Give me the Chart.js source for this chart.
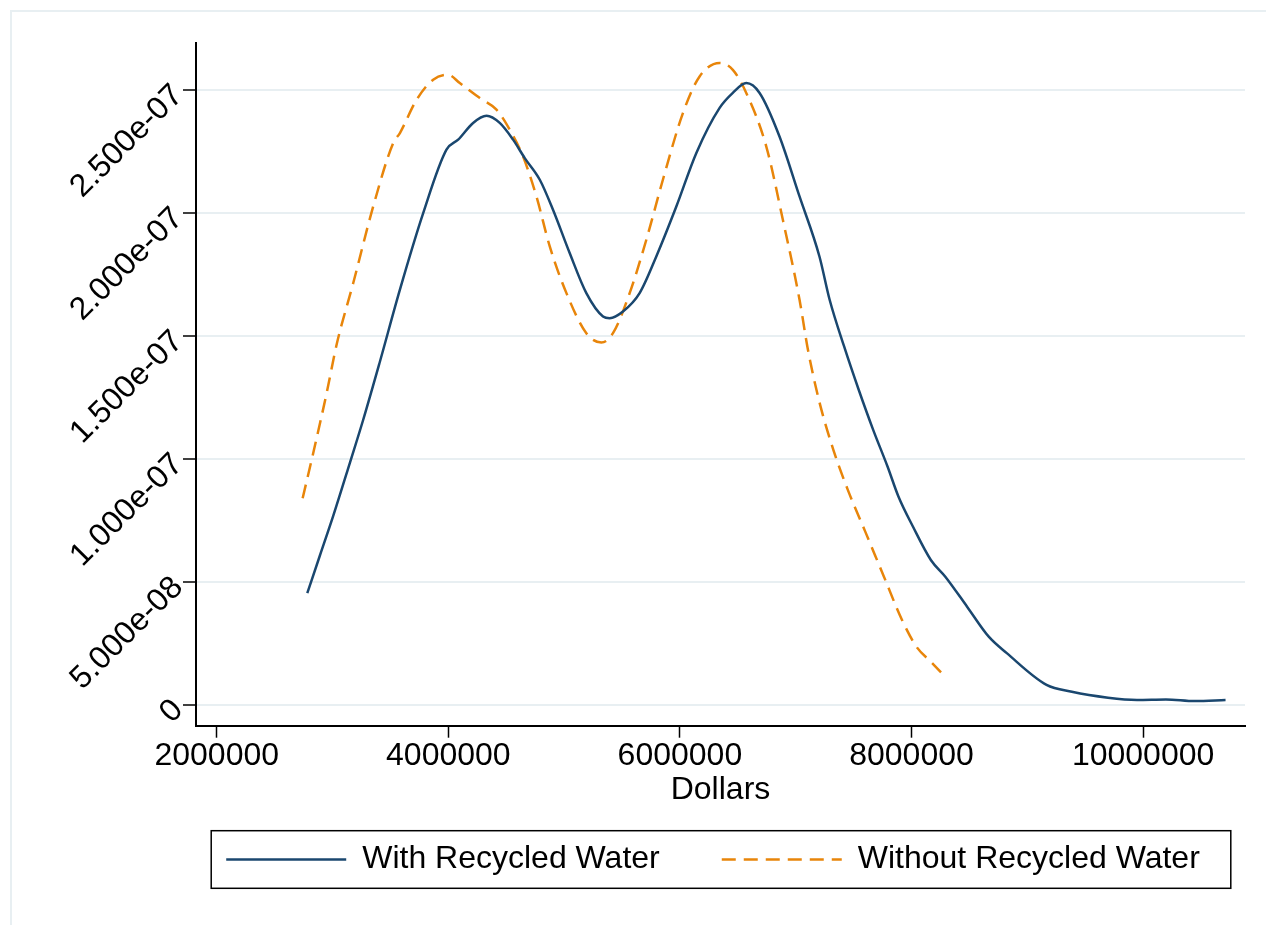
<!DOCTYPE html>
<html>
<head>
<meta charset="utf-8">
<script src="https://cdn.jsdelivr.net/npm/chart.js@4"></script>
<style>
  body { margin: 0; background: #fff; }
  canvas { display: block; }
</style>
</head>
<body>
<canvas id="chart" width="1266" height="925"></canvas>
<script>
// kernel density, with recycled water
const withX = [2782000, 2891000, 3006000, 3150000, 3265000, 3409000, 3582000, 3783000, 3984000, 4085000,
  4214000, 4330000, 4444000, 4559000, 4660000, 4790000, 4904000, 5048000, 5192000, 5336000,
  5393000, 5508000, 5652000, 5796000, 5969000, 6142000, 6343000, 6457000, 6573000, 6688000,
  6860000, 7033000, 7205000, 7293000, 7418000, 7544000, 7669000, 7793000, 7887000, 8012000,
  8167000, 8292000, 8480000, 8667000, 8823000, 9166000, 9385000, 9697000, 9947000, 10197000,
  10447000, 10712000];
const withY = [4.56e-8, 6.09e-8, 7.70e-8, 9.86e-8, 1.161e-7, 1.397e-7, 1.69e-7, 2.001e-7, 2.259e-7, 2.30e-7,
  2.368e-7, 2.397e-7, 2.368e-7, 2.30e-7, 2.225e-7, 2.137e-7, 2.015e-7, 1.839e-7, 1.676e-7, 1.581e-7,
  1.574e-7, 1.601e-7, 1.676e-7, 1.825e-7, 2.028e-7, 2.246e-7, 2.429e-7, 2.49e-7, 2.53e-7, 2.49e-7,
  2.313e-7, 2.069e-7, 1.825e-7, 1.649e-7, 1.459e-7, 1.283e-7, 1.12e-7, 9.71e-8, 8.49e-8, 7.27e-8,
  5.91e-8, 5.23e-8, 4.01e-8, 2.79e-8, 2.12e-8, 8.3e-9, 5.5e-9, 3.1e-9, 2.2e-9, 2.4e-9,
  1.7e-9, 2.2e-9];

// kernel density, without recycled water
const withoutX = [2742000, 2833000, 2949000, 3035000, 3179000, 3351000, 3524000, 3582000, 3726000, 3869000,
  3998000, 4099000, 4272000, 4416000, 4531000, 4645000, 4761000, 4876000, 5020000, 5192000,
  5322000, 5422000, 5566000, 5710000, 5853000, 6026000, 6170000, 6343000, 6457000, 6573000,
  6746000, 6889000, 7033000, 7106000, 7200000, 7325000, 7450000, 7606000, 7762000, 7918000,
  8043000, 8167000, 8255000];
const withoutY = [8.42e-8, 1.025e-7, 1.269e-7, 1.466e-7, 1.717e-7, 2.028e-7, 2.286e-7, 2.327e-7, 2.462e-7, 2.544e-7,
  2.564e-7, 2.53e-7, 2.469e-7, 2.422e-7, 2.34e-7, 2.232e-7, 2.069e-7, 1.866e-7, 1.676e-7, 1.513e-7,
  1.475e-7, 1.513e-7, 1.676e-7, 1.893e-7, 2.137e-7, 2.408e-7, 2.557e-7, 2.612e-7, 2.584e-7, 2.49e-7,
  2.272e-7, 1.974e-7, 1.649e-7, 1.445e-7, 1.242e-7, 1.039e-7, 8.76e-8, 7.0e-8, 5.23e-8, 3.47e-8,
  2.38e-8, 1.77e-8, 1.34e-8];

const seriesNames = ["With Recycled Water", "Without Recycled Water"];
const xTicks = [2000000, 4000000, 6000000, 8000000, 10000000];
const xTickLabels = ["2000000", "4000000", "6000000", "8000000", "10000000"];
const yTicks = [0, 5e-8, 1e-7, 1.5e-7, 2e-7, 2.5e-7];
const yTickLabels = ["0", "5.000e-08", "1.000e-07", "1.500e-07", "2.000e-07", "2.500e-07"];
const xTitle = "Dollars";

const gridColor = "#e8eff2";

function toPoints(xs, ys) {
  return xs.map((x, i) => ({ x: x, y: ys[i] }));
}

Chart.defaults.font.family = "'Liberation Sans', Arial, sans-serif";
Chart.defaults.font.size = 32;
Chart.defaults.color = "#000";

// white page + light outer frame like the stata graph region
const framePlugin = {
  id: "frame",
  beforeDraw(chart) {
    const ctx = chart.ctx;
    ctx.save();
    ctx.fillStyle = "#fff";
    ctx.fillRect(0, 0, chart.width, chart.height);
    ctx.strokeStyle = gridColor;
    ctx.lineWidth = 2;
    ctx.strokeRect(11, 11, chart.width + 20, chart.height + 20);
    ctx.restore();
  }
};

// legend centred under the plot region (not the whole canvas), with a box round it
// (the legend plugin recomputes its hitboxes in afterUpdate, after this)
const legendBoxPlugin = {
  id: "legendBox",
  afterLayout(chart) {
    const lg = chart.legend;
    const shift = (chart.chartArea.left + chart.chartArea.right) / 2 - 7.5 - (lg.left + lg.right) / 2;
    lg.left += shift;
    lg.right += shift;
  },
  afterDraw(chart) {
    const boxes = chart.legend.legendHitBoxes;
    if (!boxes || !boxes.length) return;
    const first = boxes[0], last = boxes[boxes.length - 1];
    const mid = first.top + first.height / 2;
    const left = first.left - 15;
    const right = last.left + last.width + 31;
    const ctx = chart.ctx;
    ctx.save();
    ctx.strokeStyle = "#000";
    ctx.lineWidth = 1.5;
    ctx.strokeRect(left, mid - 28.8, right - left, 57.6);
    ctx.restore();
  }
};

new Chart(document.getElementById("chart"), {
  type: "line",
  data: {
    datasets: [{
      label: seriesNames[0],
      data: toPoints(withX, withY),
      borderColor: "#1a476f",
      backgroundColor: "#1a476f",
      borderWidth: 2.5,
      pointRadius: 0,
      cubicInterpolationMode: "monotone",
      fill: false
    }, {
      label: seriesNames[1],
      data: toPoints(withoutX, withoutY),
      borderColor: "#e8850a",
      backgroundColor: "#e8850a",
      borderWidth: 2.5,
      borderDash: [14, 8],
      pointRadius: 0,
      cubicInterpolationMode: "monotone",
      fill: false
    }]
  },
  options: {
    responsive: false,
    animation: false,
    devicePixelRatio: 1,
    layout: { padding: { left: 0, top: 43, right: 21, bottom: 39.5 } },
    plugins: {
      tooltip: { enabled: false },
      legend: {
        position: "bottom",
        labels: {
          usePointStyle: true,
          pointStyle: "line",
          pointStyleWidth: 120,
          boxHeight: 32,
          padding: 62,
          color: "#000",
          font: { size: 32 },
          generateLabels: chart => Chart.defaults.plugins.legend.labels.generateLabels(chart).map((item, i) => {
            const ds = chart.data.datasets[i];
            item.lineDash = ds.borderDash || [];
            item.lineWidth = ds.borderWidth;
            item.strokeStyle = ds.borderColor;
            return item;
          })
        }
      }
    },
    scales: {
      x: {
        type: "linear",
        min: 1821000,
        max: 10880000,
        afterBuildTicks: s => { s.ticks = xTicks.map(v => ({ value: v })); },
        afterFit: s => { s.height = 55.8; s.paddingLeft = 0; s.paddingRight = 0; },
        ticks: {
          autoSkip: false,
          maxRotation: 0,
          minRotation: 0,
          padding: -1,
          color: "#000",
          font: { size: 32 },
          callback: (v, i) => xTickLabels[i]
        },
        grid: {
          drawOnChartArea: false,
          drawTicks: true,
          tickLength: 12,
          tickColor: "#000",
          tickWidth: 1.5
        },
        border: { display: true, color: "#000", width: 2 },
        title: {
          display: true,
          text: xTitle,
          color: "#000",
          font: { size: 32 },
          padding: { top: 0, bottom: -28.2 }
        }
      },
      y: {
        type: "linear",
        min: -8.3e-9,
        max: 2.693e-7,
        afterBuildTicks: s => { s.ticks = yTicks.map(v => ({ value: v })); },
        afterFit: s => { s.width = 196; s.paddingTop = 0; s.paddingBottom = 0; },
        ticks: {
          autoSkip: false,
          minRotation: 45,
          maxRotation: 45,
          padding: 5,
          color: "#000",
          font: { size: 32 },
          callback: (v, i) => yTickLabels[i]
        },
        grid: {
          color: gridColor,
          lineWidth: 2,
          tickLength: 13,
          tickColor: "#000",
          tickWidth: 1.5
        },
        border: { display: true, color: "#000", width: 2 }
      }
    }
  },
  plugins: [framePlugin, legendBoxPlugin]
});
</script>
</body>
</html>
